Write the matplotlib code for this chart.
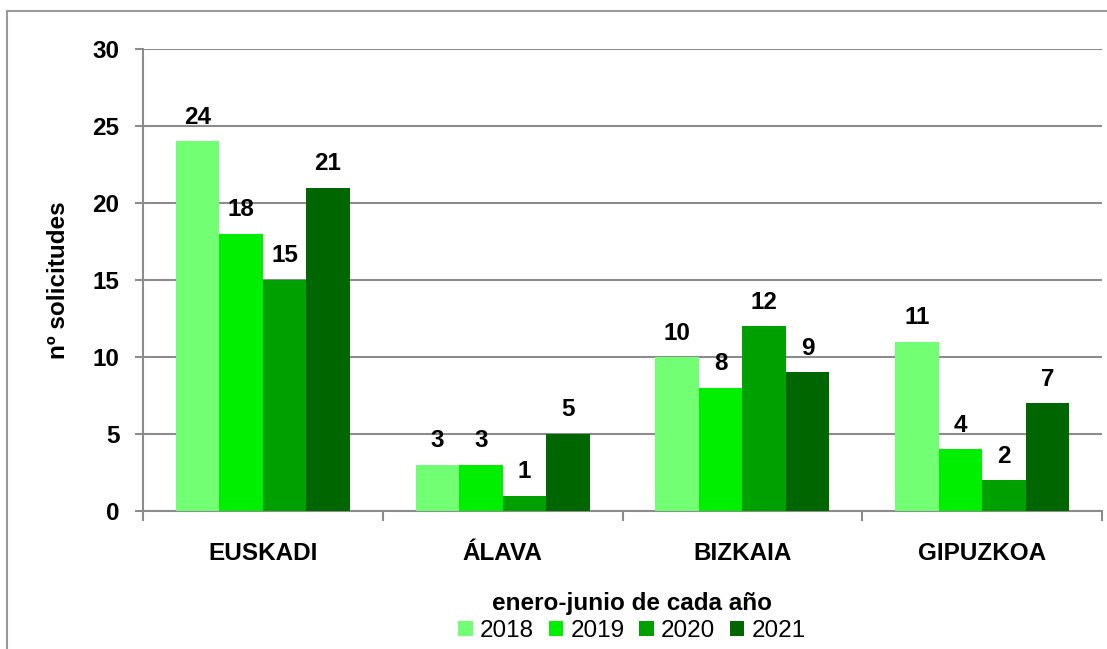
import matplotlib
matplotlib.use("Agg")
import matplotlib.pyplot as plt
from matplotlib.patches import Rectangle, Patch
import numpy as np

categories = ["EUSKADI", "ÁLAVA", "BIZKAIA", "GIPUZKOA"]
years = ["2018", "2019", "2020", "2021"]
values = {
    "2018": [24, 3, 10, 11],
    "2019": [18, 3, 8, 4],
    "2020": [15, 1, 12, 2],
    "2021": [21, 5, 9, 7],
}
colors = ["#73FF73", "#00EE00", "#00A000", "#006600"]
yticks = [0, 5, 10, 15, 20, 25, 30]

plt.rcParams['font.family'] = ['Liberation Sans', 'DejaVu Sans']
FS = 17.5

fig = plt.figure(figsize=(11.07, 6.49), dpi=100)
ax = fig.add_axes([143/1107, 1-511/649, (1102-143)/1107, (511-49)/649])

grid_c = "#8c8c8c"
x = np.arange(len(categories))
bw = 0.725 / 4
for i, yr in enumerate(years):
    pos = x - 0.725/2 + bw*(i+0.5)
    bars = ax.bar(pos, values[yr], width=bw, color=colors[i], edgecolor="none", zorder=3, label=yr)
    for b, v in zip(bars, values[yr]):
        ax.annotate(str(v), (b.get_x()+b.get_width()/2, v), xytext=(0, 9), textcoords="offset points",
                    ha="center", va="bottom", fontsize=FS, fontweight="bold", zorder=4)

ax.set_xlim(-0.5, 3.5)
ax.set_ylim(0, 30)
ax.set_yticks(yticks)
ax.set_yticklabels([str(t) for t in yticks], fontsize=FS, fontweight="bold")
ax.yaxis.grid(True, color=grid_c, lw=1.5, zorder=0)
ax.tick_params(axis='y', length=6, color=grid_c, width=1.5, pad=11)
ax.set_xticks(x)
ax.set_xticklabels(categories, fontsize=FS, fontweight="bold")
ax.tick_params(axis='x', length=0, pad=22)
ax.set_xticks(np.arange(-0.5, 4.0, 1.0), minor=True)
ax.tick_params(axis='x', which='minor', length=7, color=grid_c, width=1.5, direction='out')
for s in ["top", "right"]:
    ax.spines[s].set_visible(False)
for s in ["left", "bottom"]:
    ax.spines[s].set_color(grid_c)
    ax.spines[s].set_linewidth(1.5)
ax.set_ylabel("nº solicitudes", fontsize=FS, fontweight="bold", labelpad=16)

handles = [Patch(facecolor=c, edgecolor="none") for c in colors]
leg = fig.legend(handles, years, loc="center", bbox_to_anchor=(632/1107, 1-617/649), ncol=4,
                 frameon=False, fontsize=FS, title="enero-junio de cada año",
                 title_fontproperties={"weight": "bold", "size": FS},
                 handlelength=0.6, handleheight=0.6, handletextpad=0.3, columnspacing=0.6,
                 borderpad=0.1, labelspacing=0.1)
leg._legend_box.sep = 4

fig.patches.append(Rectangle((7/1107, -0.1), 1.2, 1.1 - 11/649, transform=fig.transFigure,
                             fill=False, edgecolor="#999999", lw=1.5, zorder=0))

fig.savefig("out.png", dpi=100)
